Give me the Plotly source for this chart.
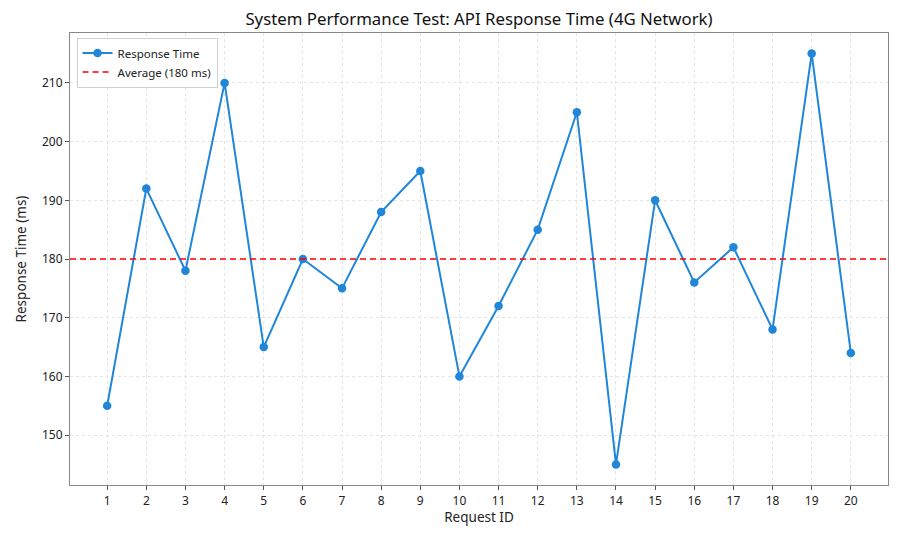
import plotly.graph_objects as go

request_ids = list(range(1, 21))
response_ms = [155, 192, 178, 210, 165, 180, 175, 188, 195, 160,
               172, 185, 205, 145, 190, 176, 182, 168, 215, 164]
average_ms = 180
y_ticks = [150, 160, 170, 180, 190, 200, 210]

FONT = "Noto Sans"
BLUE = "#1f86d9"

fig = go.Figure()
fig.add_trace(go.Scatter(
    x=request_ids, y=response_ms, mode="lines+markers",
    name="Response Time",
    line=dict(color=BLUE, width=2),
    marker=dict(color=BLUE, size=8.5),
))
fig.add_trace(go.Scatter(
    x=[0.05, 20.95], y=[average_ms, average_ms], mode="lines",
    name=f"Average ({average_ms} ms)",
    line=dict(color="#ff0000", width=1.6, dash="6px,4px"),
))

fig.update_layout(
    width=894, height=533,
    margin=dict(l=62, r=14, t=25, b=56, autoexpand=False),
    paper_bgcolor="white", plot_bgcolor="white",
    font=dict(family=FONT, size=12, color="#222"),
    title=dict(text="System Performance Test: API Response Time (4G Network)",
               x=0.5, xanchor="center", xref="paper",
               y=1 - 11 / 533, yanchor="middle",
               font=dict(size=16.8, color="#111")),
    legend=dict(x=0.008, y=0.99, xanchor="left", yanchor="top",
                bgcolor="rgba(255,255,255,0.9)", bordercolor="#d0d0d0",
                borderwidth=1, font=dict(size=11.5)),
    showlegend=True,
)
fig.update_xaxes(
    range=[0.05, 20.95], tickmode="array", tickvals=request_ids,
    ticktext=[str(v) for v in request_ids],
    title=dict(text="Request ID", font=dict(size=13.5), standoff=3),
    showline=True, linecolor="#888", linewidth=1.2, mirror=True,
    ticks="outside", ticklen=4, tickcolor="#555",
    showgrid=True, gridcolor="#e4e4e4", griddash="dot", gridwidth=0.8,
    zeroline=False, automargin=False,
)
fig.update_yaxes(
    range=[141.5, 218.5], tickmode="array", tickvals=y_ticks,
    title=dict(text="Response Time (ms)", font=dict(size=13.5), standoff=12),
    showline=True, linecolor="#888", linewidth=1.2, mirror=True,
    ticks="outside", ticklen=4, tickcolor="#555",
    showgrid=True, gridcolor="#e4e4e4", griddash="dot", gridwidth=0.8,
    zeroline=False, automargin=False,
)

fig.write_html("out.html")
